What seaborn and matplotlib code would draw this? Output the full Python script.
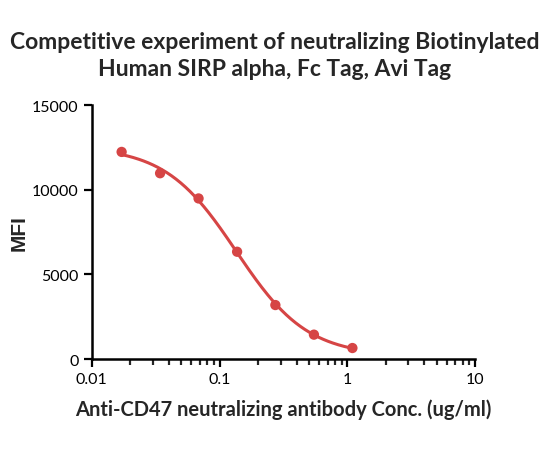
import numpy as np
import pandas as pd
import matplotlib
matplotlib.use('Agg')
import matplotlib.pyplot as plt
import seaborn as sns
from matplotlib.ticker import LogLocator, NullFormatter

# Data
conc = [0.0171, 0.0342, 0.0684, 0.137, 0.273, 0.547, 1.094]
mfi = [12240, 10980, 9490, 6340, 3190, 1440, 650]

title = 'Competitive experiment of neutralizing Biotinylated\nHuman SIRP alpha, Fc Tag, Avi Tag'
xlabel = 'Anti-CD47 neutralizing antibody Conc. (ug/ml)'
ylabel = 'MFI'
red = '#d64545'

df = pd.DataFrame({'conc': conc, 'mfi': mfi})

# 4PL fit: grid over log EC50 and hill slope, linear least squares for top/bottom
lx = np.log10(df['conc'].values)
y = df['mfi'].values
best = None
for logc in np.linspace(-2, 0.5, 251):
    for hill in np.linspace(0.3, 3, 271):
        f = 1.0 / (1.0 + 10 ** ((lx - logc) * hill))
        A = np.column_stack([np.ones_like(f), f])
        coef, *_ = np.linalg.lstsq(A, y, rcond=None)
        err = np.sum((A @ coef - y) ** 2)
        if best is None or err < best[0]:
            best = (err, logc, hill, coef)
_, logc, hill, coef = best
xs = np.logspace(lx.min(), lx.max(), 200)
fit = pd.DataFrame({'conc': xs,
                    'mfi': coef[0] + coef[1] / (1.0 + 10 ** ((np.log10(xs) - logc) * hill))})

sns.set_style('ticks')
plt.rcParams['font.family'] = ['Lato', 'DejaVu Sans']

fig = plt.figure(figsize=(5.5, 4.52), dpi=100)
ax = fig.add_axes([0.167, 0.2035, 0.697, 0.5615])

sns.lineplot(data=fit, x='conc', y='mfi', color=red, linewidth=2.2, ax=ax)
sns.scatterplot(data=df, x='conc', y='mfi', color=red, s=55, edgecolor='none', ax=ax, zorder=3)

ax.set_xscale('log')
ax.set_xlim(0.01, 10)
ax.set_ylim(0, 15000)
ax.set_yticks([0, 5000, 10000, 15000])
ax.set_xticks([0.01, 0.1, 1, 10])
ax.set_xticklabels(['0.01', '0.1', '1', '10'])
ax.xaxis.set_minor_locator(LogLocator(base=10, subs=np.arange(2, 10)))
ax.xaxis.set_minor_formatter(NullFormatter())

sns.despine(ax=ax)
for s in ['left', 'bottom']:
    ax.spines[s].set_linewidth(1.8)
    ax.spines[s].set_color('black')
ax.tick_params(axis='both', which='major', length=6, width=1.6, labelsize=11.5, colors='black', direction='out')
ax.tick_params(axis='x', which='minor', length=4, width=1.6, direction='out')

ax.set_xlabel(xlabel, fontsize=14.5, fontweight='bold', labelpad=9)
ax.set_ylabel(ylabel, fontsize=15, fontweight='bold',
              family=['Liberation Sans', 'DejaVu Sans'])
ax.yaxis.set_label_coords(-0.165, 0.5)
fig.suptitle(title, fontsize=16.5, fontweight='bold', x=0.5, y=0.93, linespacing=1.35)

fig.savefig('out.png', dpi=100, facecolor='white')
